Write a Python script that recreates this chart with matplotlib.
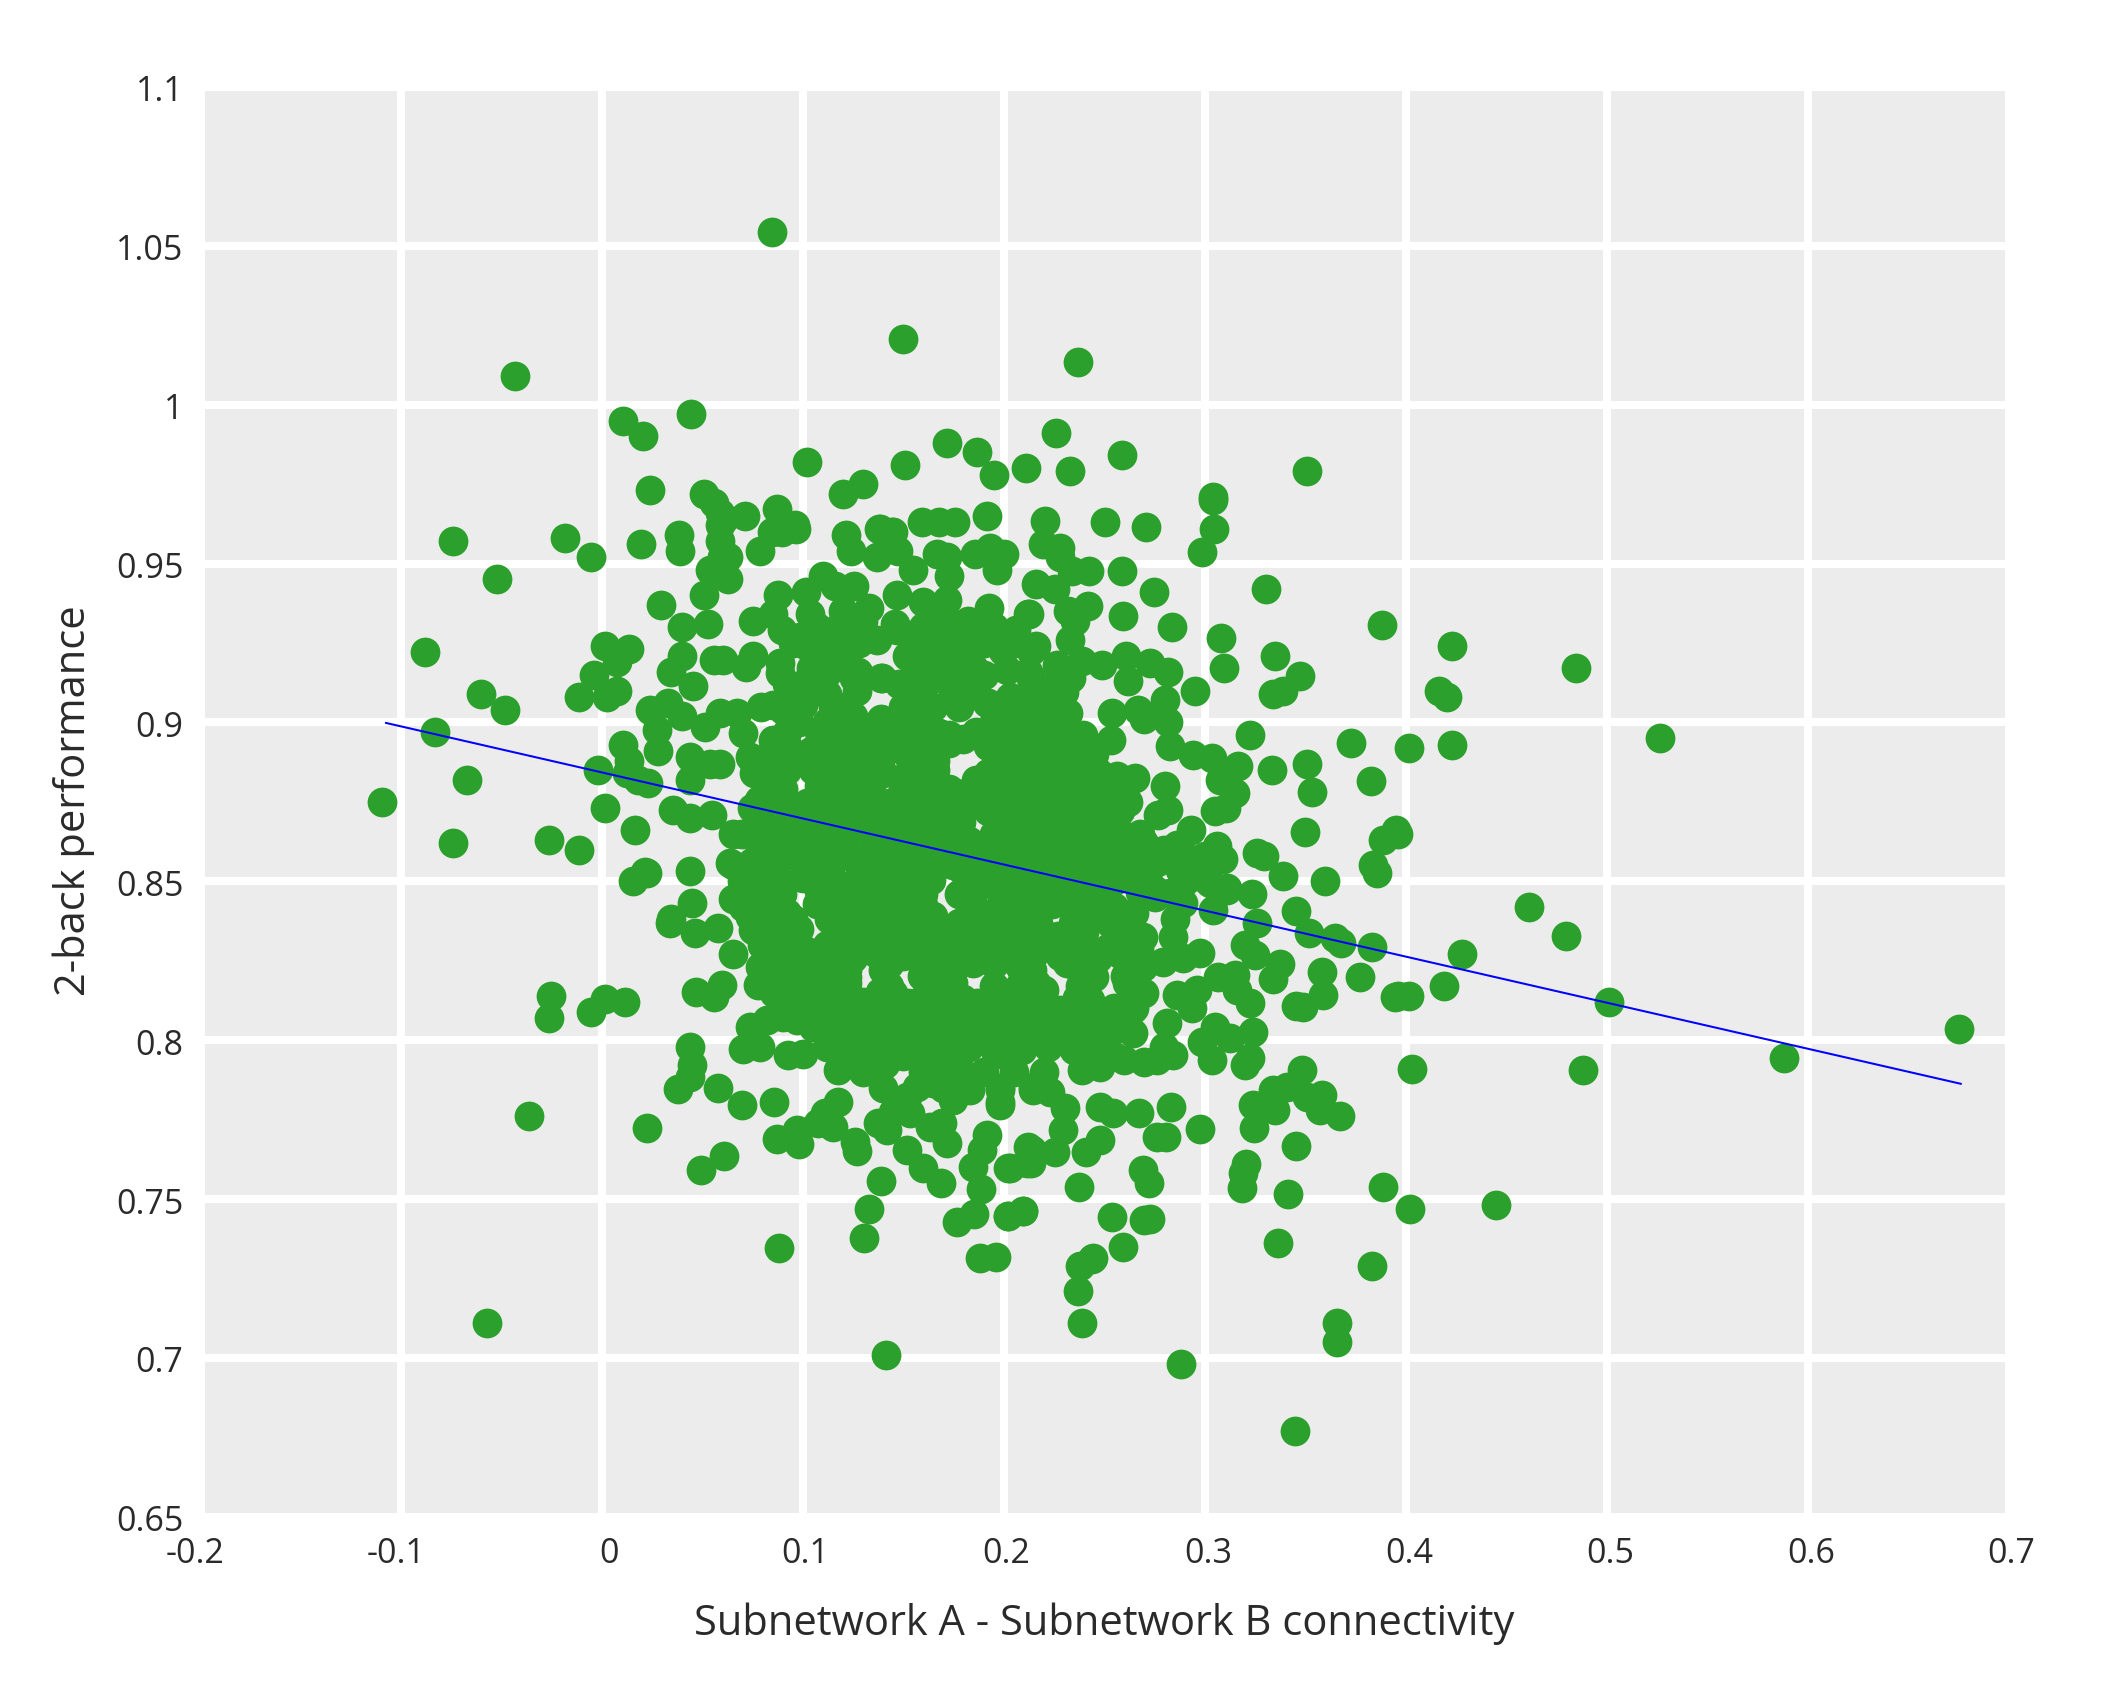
import matplotlib
matplotlib.use("Agg")
import matplotlib.pyplot as plt

plt.rcParams["font.family"] = ["Open Sans", "DejaVu Sans"]

# subjects well away from the main cloud
outer_x = [
    -.043, .0105, .0205, -.074, -.018, -.005, -.052, .0195, -.088, -.060,
    -.048, -.083, -.067, -.074, -.109, -.026, -.011, -.011, -.004, .0015,
    .0135, .0075, .0075, .0025, .0105, .0135, -.002, .0015, .0165, .0155,
    .0215, -.025, -.026, -.005, .0015, .0115, -.036, -.057, .0125, .018,
    .023, .0345, .0225, .085, .150, .237, .0445, .102, .151, .172,
    .187, .195, .211, .226, .233, .259, .351, .024, .051, .120,
    .130, .304, .056, .061, .096, .138, .145, .0387, .039, .1415,
    .288, .345, .366, .366, .383, .239, .237, .238, .244, .403,
    .4447, .402, .488, .588, .675, .5012, .5263, .4615, .4797, .4278,
    .419, .4016, .396, .4845, .4164, .4205, .4232, .4016, .4232, .395,
]
outer_y = [
    1.009, .995, .990, .957, .958, .952, .945, .956, .922, .909,
    .904, .897, .882, .862, .875, .863, .860, .908, .915, .924,
    .923, .919, .910, .908, .893, .888, .885, .873, .866, .850,
    .853, .814, .807, .809, .813, .812, .776, .711, .884, .882,
    .881, .838, .7723, 1.0543, 1.0206, 1.0134, .997, .982, .981, .988,
    .985, .978, .980, .991, .979, .984, .979, .973, .972, .972,
    .975, .971, .969, .964, .962, .961, .960, .959, .954, .701,
    .698, .677, .705, .711, .729, .711, .721, .729, .731, .791,
    .748, .747, .7907, .7945, .8035, .812, .8952, .8419, .8329, .827,
    .817, .814, .814, .917, .910, .908, .924, .892, .893, .866,
]

# upper left part of the cloud
upper_left_x = [
    .059, .059, .059, .0598, .063, .054, .063, .051, .0294, .040,
    .053, .0714, .0875, .085, .0896, .0968, .0788, .1215, .124, .1386,
    .1443, .137, .1477, .1596, .168, .1758, .1916, .155, .1668, .1726,
    .1718, .1858, .193, .200, .1966, .11, .1256, .116, .1016, .088,
    .147, .133, .16, .1717, .1925, .1825, .172, .212, .206, .0755,
    .0896, .0855, .1037, .110, .137, .1468, .127, .1585, .168, .185,
    .2015, .04, .0344, .056, .0606, .072, .0755, .0888, .0888, .0457,
    .1278, .1397, .127, .112, .112, .102, .1617, .16, .1717, .185,
    .2015, .203, .15, .165, .178, .1916, .21, .2165, .0332, .024,
    .0274, .028, .04, .0515, .059, .0672, .0792, .0905, .0705, .044,
    .054, .059, .0739, .0855, .097, .11, .1253, .140, .155, .168,
    .195, .0357, .044, .0548, .044, .0855, .0905, .112, .125, .127,
    .155, .175, .2, .2148, .2015, .0656, .064, .089, .102, .112,
    .0855, .0855, .102, .122, .135, .143, .16, .168, .2, .206,
    .190,
]
upper_left_y = [
    .966, .962, .957, .952, .952, .948, .945, .940, .937, .930,
    .931, .965, .967, .96, .96, .961, .954, .959, .954, .961,
    .96, .952, .954, .963, .963, .963, .965, .948, .953, .946,
    .952, .953, .955, .953, .948, .946, .943, .943, .941, .94,
    .94, .936, .938, .9385, .936, .932, .93, .934, .929, .932,
    .929, .934, .934, .927, .926, .929, .93, .926, .924, .926,
    .924, .921, .916, .9195, .9195, .9175, .921, .9186, .9155, .9115,
    .916, .914, .91, .9155, .909, .924, .9175, .911, .9155, .9175,
    .9165, .908, .905, .905, .905, .906, .902, .8997, .906, .904,
    .8976, .891, .902, .8987, .903, .903, .905, .904, .8966, .889,
    .887, .887, .889, .8945, .889, .892, .8945, .8966, .892, .8966,
    .8976, .8725, .870, .871, .882, .883, .879, .883, .886, .8755,
    .881, .8777, .8777, .884, .887, .865, .8557, .8756, .8745, .869,
    .865, .8557, .86, .865, .865, .859, .865, .8567, .861, .867,
    .857,
]

# upper right part of the cloud
upper_right_x = [
    .2206, .2506, .2707, .304, .3048, .2985, .2198, .228, .228, .2338,
    .2426, .2587, .275, .216, .2256, .242, .232, .2355, .2128, .2594,
    .284, .3305, .3884, .308, .3098, .3352, .3472, .339, .334, .2952,
    .2819, .273, .262, .261, .2488, .2388, .233, .2264, .2161, .2239,
    .232, .2537, .267, .270, .2803, .282, .2534, .2396, .2264, .2197,
    .2828, .2944, .3035, .3168, .3225, .3336, .3511, .3532, .3726, .3826,
    .3076, .315, .3106, .305, .35, .293, .286, .2927, .306, .3093,
    .326, .3297, .339, .3598, .3889, .3963, .3835, .3855, .277, .2819,
    .2803, .2654, .2562, .247, .2355, .2297, .2513, .2413, .2595, .248,
    .238, .2645, .2761, .2877, .3027, .3109, .3234, .2828, .2678, .2753,
]
upper_right_y = [
    .9635, .963, .9616, .97, .961, .9535, .956, .955, .952, .9475,
    .9475, .9475, .941, .9436, .942, .9366, .935, .932, .934, .9335,
    .93, .942, .9305, .9265, .917, .921, .9146, .910, .909, .91,
    .916, .9186, .913, .921, .918, .9194, .926, .918, .924, .9107,
    .903, .903, .904, .901, .907, .9, .8945, .896, .8966, .903,
    .8926, .8898, .8887, .8863, .896, .885, .887, .878, .8934, .8817,
    .882, .8777, .873, .872, .8656, .866, .8614, .857, .861, .857,
    .859, .858, .8517, .85, .863, .865, .855, .8525, .871, .8725,
    .88, .8824, .883, .8845, .887, .882, .8756, .8724, .8646, .864,
    .865, .8567, .856, .8536, .8494, .848, .846, .8462, .8467, .845,
]

# lower right part of the cloud
lower_right_x = [
    .3454, .3521, .3648, .3676, .3831, .3375, .3342, .3582, .3773, .359,
    .349, .3454, .3947, .3259, .32, .325, .315, .3068, .316, .3225,
    .296, .286, .2935, .2811, .3051, .3126, .3242, .2985, .3035, .3225,
    .32, .2844, .2761, .2645, .2599, .2546, .2479, .2388, .2438, .2396,
    .243, .2363, .2612, .2314, .2695, .2794, .2894, .2977, .2844, .2695,
    .2629, .2347, .2529, .2612, .2678, .2753, .2894, .301, .3109, .3043,
    .2148, .2231, .2305, .2297, .2479, .2546, .2675, .2833, .2479, .241,
    .2256, .2139, .2135, .2032, .1982, .1982, .2977, .2761, .2806, .2695,
    .2723, .2377, .2541, .2700, .2728, .2592, .2095, .2023, .2443, .3247,
    .3204, .3192, .3186, .3454, .3413, .3363, .3889, .3482, .3342, .3408,
    .3242, .3350, .3507, .3585, .3574, .3673,
]
lower_right_y = [
    .8408, .8336, .832, .8305, .8292, .8239, .8193, .8216, .8198, .8142,
    .8105, .8109, .8137, .8368, .83, .8268, .8205, .82, .8158, .8116,
    .8158, .8142, .81, .8053, .8043, .8006, .8027, .7995, .7938, .7943,
    .7922, .7953, .7937, .8022, .7937, .8032, .7917, .7906, .7980, .8053,
    .8126, .8132, .8179, .8242, .8231, .8247, .8258, .8273, .8326, .8326,
    .8352, .8368, .8368, .8394, .8473, .8473, .8431, .8504, .8473, .841,
    .7854, .7838, .7786, .7717, .7791, .777, .777, .7791, .7686, .7649,
    .7649, .7654, .7612, .7597, .7843, .7806, .772, .7696, .7694, .7591,
    .7549, .7539, .7442, .7434, .7437, .7350, .7462, .7448, .7313, .7723,
    .7610, .7581, .7534, .7668, .7515, .7361, .7539, .7906, .7843, .7854,
    .7796, .7780, .7822, .7827, .7780, .7761,
]

# lower left part of the cloud
lower_left_x = [
    .0440, .0225, .0653, .0656, .0705, .0452, .0341, .0465, .058, .0739,
    .0755, .0653, .0788, .078, .0598, .047, .0560, .0888, .0905, .0938,
    .0855, .107, .1186, .0988, .1186, .112, .1220, .0905, .0921, .1054,
    .1153, .1385, .1286, .1385, .1452, .1617, .1734, .185, .175, .1866,
    .1982, .2098, .1949, .2015, .2024, .1568, .15, .1253, .127, .1178,
    .1178, .0739, .0822, .0905, .0971, .1054, .0705, .0788, .0929, .1004,
    .112, .1410, .1452, .1601, .175, .1783, .1684, .1568, .165, .175,
    .1833, .1982, .1982, .2148, .0440, .0449, .0440, .0379, .058, .0699,
    .0858, .0871, .0971, .0983, .1079, .115, .1178, .1112, .1261, .1270,
    .1377, .1418, .1452, .1534, .1518, .1601, .1687, .1717, .1692, .1634,
    .1389, .1331, .1307, .0611, .0495, .0881, .1916, .1891, .185, .1886,
    .1854, .1770, .2024, .2115, .2024, .2098, .2123, .1883, .1962,
]
lower_left_y = [
    .8533, .8525, .8551, .8443, .842, .8431, .837, .8336, .8352, .8389,
    .8347, .8271, .8231, .8174, .8173, .8153, .8135, .8457, .841, .8336,
    .8326, .843, .8378, .8210, .821, .8158, .82, .821, .8242, .8273,
    .8284, .8294, .8284, .8153, .8147, .8179, .8221, .8242, .8126, .8116,
    .8147, .8095, .8043, .8, .7948, .8074, .8084, .8053, .801, .7906,
    .798, .8043, .8064, .8074, .8064, .8043, .7971, .7979, .7953, .7958,
    .798, .7925, .798, .8, .7948, .7906, .7938, .7854, .7864, .7812,
    .7843, .7849, .7796, .7843, .798, .7922, .7885, .7845, .785, .7796,
    .7806, .7688, .7717, .7673, .7738, .7728, .7806, .7770, .7681, .7652,
    .7738, .7717, .7775, .7770, .7654, .7597, .7549, .7675, .7738, .7728,
    .7558, .7469, .7378, .7635, .7591, .7347, .7702, .7654, .7602, .7531,
    .7452, .7429, .7597, .7612, .7448, .7462, .7665, .7313, .7319,
]

# densely packed middle
core_x = [
    .108, .121, .134, .147, .160, .173, .192, .205, .218, .231,
    .114, .127, .140, .153, .166, .197, .210, .223, .236, .104,
    .108, .121, .134, .150, .160, .173, .188, .201, .214, .227,
    .114, .127, .140, .153, .166, .179, .192, .208, .221, .234,
    .108, .121, .134, .147, .160, .172, .198, .211, .224, .237,
    .114, .127, .140, .153, .166, .179, .192, .205, .218, .231,
    .108, .121, .134, .147, .160, .185, .198, .211, .224, .237,
    .113, .126, .139, .152, .165, .178, .191, .204, .217, .240,
    .112, .125, .137, .150, .163, .176, .189, .202, .215, .228,
    .110, .122, .143, .163, .175, .195, .208, .214, .234, .140,
    .110, .123, .143, .160, .172, .193, .206, .219, .130, .180,
    .115, .137, .150, .163, .176, .189, .202, .215, .228, .124,
    .131, .144, .157, .170, .183, .196, .209, .222, .120, .235,
]
core_y = [
    .897, .898, .896, .897, .898, .896, .897, .898, .896, .897,
    .889, .888, .890, .889, .888, .890, .889, .888, .890, .891,
    .880, .881, .879, .880, .881, .879, .880, .881, .879, .880,
    .872, .871, .873, .872, .871, .873, .872, .871, .873, .872,
    .864, .863, .865, .864, .863, .865, .864, .863, .865, .864,
    .855, .856, .854, .855, .856, .854, .855, .856, .854, .855,
    .847, .846, .848, .847, .846, .848, .847, .846, .848, .847,
    .838, .839, .837, .838, .839, .837, .838, .839, .837, .838,
    .830, .829, .831, .830, .829, .831, .830, .829, .831, .830,
    .823, .822, .824, .823, .822, .824, .823, .822, .824, .822,
    .813, .814, .812, .813, .814, .812, .813, .814, .812, .813,
    .805, .804, .806, .805, .804, .806, .805, .804, .806, .805,
    .797, .798, .796, .797, .798, .796, .797, .798, .796, .797,
]

# second helping of the middle, between the rows above
middle_x = [
    .121, .134, .147, .160, .173, .205, .218, .231, .108, .192,
    .114, .127, .140, .153, .166, .197, .210, .223, .236, .109,
    .108, .121, .134, .150, .160, .173, .188, .201, .214, .227,
    .114, .127, .140, .153, .166, .179, .197, .208, .221, .234,
    .108, .121, .134, .147, .160, .172, .198, .211, .224, .237,
    .114, .127, .140, .153, .164, .192, .205, .218, .231, .186,
    .121, .134, .147, .160, .185, .198, .211, .224, .237, .113,
    .119, .126, .139, .152, .165, .178, .191, .204, .215, .240,
    .112, .125, .137, .150, .163, .176, .189, .202, .215, .228,
    .110, .122, .143, .163, .175, .195, .208, .216, .238, .171,
    .115, .137, .150, .163, .176, .189, .202, .215, .228, .124,
    .131, .144, .157, .170, .183, .196, .209, .222, .120, .235,
]
middle_y = [
    .8925, .8930, .8920, .8925, .8935, .8920, .8925, .8930, .8920, .8925,
    .8845, .8850, .8840, .8845, .8850, .8840, .8845, .8850, .8840, .8855,
    .8760, .8765, .8755, .8760, .8765, .8755, .8760, .8765, .8755, .8760,
    .8680, .8675, .8685, .8680, .8675, .8685, .8680, .8675, .8685, .8680,
    .8595, .8600, .8590, .8595, .8600, .8590, .8595, .8600, .8590, .8595,
    .8510, .8505, .8515, .8510, .8505, .8515, .8510, .8505, .8515, .8510,
    .8425, .8430, .8420, .8425, .8430, .8420, .8425, .8430, .8420, .8425,
    .8340, .8335, .8345, .8340, .8335, .8345, .8340, .8335, .8345, .8340,
    .8265, .8260, .8270, .8265, .8260, .8270, .8265, .8260, .8270, .8265,
    .8175, .8180, .8170, .8175, .8180, .8170, .8175, .8180, .8170, .8175,
    .8090, .8085, .8095, .8090, .8085, .8095, .8090, .8085, .8095, .8090,
    .8010, .8015, .8005, .8010, .8015, .8005, .8010, .8015, .8005, .8010,
]

# extra subjects on the sides of the middle
side_x = [
    .095, .088, .096, .088, .082, .075, .070, .075, .080, .078,
    .078, .098, .101, .086, .100, .092, .100, .092, .083, .100,
    .112, .118, .104, .118, .107, .120, .152, .165, .178, .190,
    .195, .205, .160, .175, .185, .158, .195, .215, .222, .240,
    .250, .255, .245, .240, .250, .258, .235, .245, .235, .247,
    .105, .115, .125, .108, .118, .128, .120, .130, .095, .100,
    .092, .098, .148, .155, .163, .170, .180, .190, .180, .192,
    .200, .205, .212, .215, .225, .225, .076, .084, .092, .080,
    .090, .096, .085, .075, .090, .082, .095, .088, .098, .080,
    .070, .242, .250, .238, .246, .256, .263, .245, .255, .248,
    .238, .252, .258, .265, .245, .255, .265, .270, .245, .255,
    .270, .280, .265, .285, .272, .280, .270, .290, .300, .262,
    .268, .130, .140, .150, .160, .170, .190, .205, .220, .152,
    .125, .105, .102,
]
side_y = [
    .873, .866, .858, .850, .858, .873, .865, .856, .848, .863,
    .842, .835, .825, .815, .810, .893, .866, .840, .875, .851,
    .900, .925, .917, .905, .930, .935, .921, .928, .920, .915,
    .930, .907, .930, .910, .910, .900, .900, .910, .905, .850,
    .852, .842, .840, .860, .870, .872, .875, .890, .880, .826,
    .910, .905, .902, .922, .930, .925, .918, .932, .925, .912,
    .912, .900, .912, .905, .922, .935, .930, .925, .913, .906,
    .905, .925, .916, .895, .885, .900, .884, .890, .885, .868,
    .875, .862, .858, .850, .846, .840, .838, .830, .818, .830,
    .850, .881, .880, .868, .862, .858, .851, .855, .850, .845,
    .830, .829, .827, .820, .820, .810, .810, .815, .805, .795,
    .793, .798, .840, .838, .850, .860, .862, .850, .858, .875,
    .865, .790, .785, .795, .790, .785, .790, .790, .790, .782,
    .812, .805, .815,
]

# remaining subjects inside the cloud
inner_x = [
    .1864, .192, .1729, .1830, .1661, .178, .1661, .1864, .1459, .1122,
    .0953, .1122, .100, .1493, .2268, .2336, .2134, .2403, .220, .2606,
    .2673, .1729, .1526, .1324, .0785, .0852, .1054, .1392, .1392, .1661,
    .1830, .1999, .1054, .1257, .0987, .146, .1729, .119, .2134, .2336,
    .0785, .092, .0852, .105, .118, .130, .145, .155, .185, .200,
    .210, .155, .165, .175, .145, .135, .120, .105, .205, .215,
    .195, .180, .195, .210, .155, .140, .125, .200, .210, .220,
    .230, .235, .1796, .1762, .1864, .100, .1054, .156, .183, .1729,
    .2134, .1864, .1695, .1594, .1931, .2336, .2437, .2639, .2235, .1425,
    .1189, .0987, .0852, .0886, .2504, .2606, .2403, .2134, .2302, .119,
]
inner_y = [
    .8969, .884, .8713, .8628, .8542, .846, .8308, .8329, .8670, .850,
    .8329, .8137, .8286, .8286, .8329, .850, .8542, .8286, .8158, .8201,
    .8286, .8116, .8116, .803, .8542, .8329, .8713, .9012, .914, .914,
    .9182, .9225, .914, .914, .9268, .931, .931, .9268, .914, .914,
    .8756, .8969, .9054, .855, .843, .852, .840, .833, .830, .840,
    .835, .865, .873, .855, .875, .885, .875, .885, .870, .865,
    .865, .825, .815, .805, .805, .815, .830, .895, .885, .875,
    .865, .845, .8948, .8777, .8820, .9054, .9182, .914, .9097, .9225,
    .9225, .8478, .8308, .8201, .8286, .8329, .8201, .8094, .8073, .8158,
    .8222, .8116, .8286, .850, .8457, .8329, .8564, .9054, .9097, .9182,
]

# fitted line, drawn between its two end points
fit_x = [-.1077, .6766]
fit_y = [.8999, .7862]

xticks = [-.2, -.1, 0, .1, .2, .3, .4, .5, .6, .7]
xtick_labels = ["-0.2", "-0.1", "0", "0.1", "0.2", "0.3", "0.4", "0.5", "0.6", "0.7"]
xtick_nudge = [-4, -4, 7, 3, 3, 3.5, 3.5, 3.5, 3.5, 2]
yticks = [.65, .7, .75, .8, .85, .9, .95, 1, 1.05, 1.1]
ytick_labels = ["0.65", "0.7", "0.75", "0.8", "0.85", "0.9", "0.95", "1", "1.05", "1.1"]

W, H = 2126, 1687
fig = plt.figure(figsize=(W / 100, H / 100), dpi=100)
ax = fig.add_axes([204.5 / W, 1 - 1513 / H, (2005.4 - 204.5) / W, (1513 - 91) / H])
ax.set_facecolor("#ececec")
for s in ax.spines.values():
    s.set_visible(False)

all_x = (outer_x + upper_left_x + upper_right_x + lower_right_x + lower_left_x
         + core_x + middle_x + side_x + inner_x)
all_y = (outer_y + upper_left_y + upper_right_y + lower_right_y + lower_left_y
         + core_y + middle_y + side_y + inner_y)
ax.scatter(all_x, all_y, s=460, color="#2ca02c", linewidths=0, zorder=3)
ax.plot(fit_x, fit_y, color="#0000ff", lw=1.45, zorder=4, solid_capstyle="butt")

ax.set_xticks(xticks, [""] * len(xticks))
ax.set_yticks(yticks, [""] * len(yticks))
# the outer ticks sit just past the plot area, so only their labels show
ax.set_xlim(-.1975, .6983)
ax.set_ylim(.6512, 1.0987)
ax.grid(True, color="white", lw=5.76, zorder=1)
ax.set_axisbelow(True)
ax.tick_params(length=0)

for tick, label, nudge in zip(xticks, xtick_labels, xtick_nudge):
    ax.annotate(label, xy=(tick, 0), xycoords=("data", "axes fraction"),
                xytext=(nudge, -50), textcoords="offset pixels", ha="center", va="baseline",
                fontsize=24.5, color="#2a2a2a", annotation_clip=False)
for tick, label in zip(yticks, ytick_labels):
    ax.annotate(label, xy=(0, tick), xycoords=("axes fraction", "data"),
                xytext=(-21, -14.5), textcoords="offset pixels", ha="right", va="baseline",
                fontsize=24.5, color="#2a2a2a", annotation_clip=False)

fig.text(1104 / W, 1 - 1624 / H, "Subnetwork A - Subnetwork B connectivity",
         fontsize=30, color="#2a2a2a", ha="center", va="center")
fig.text(74 / W, 1 - 801 / H, "2-back performance", fontsize=30,
         color="#2a2a2a", rotation=90, ha="center", va="center")

fig.savefig("out.png", dpi=100)
